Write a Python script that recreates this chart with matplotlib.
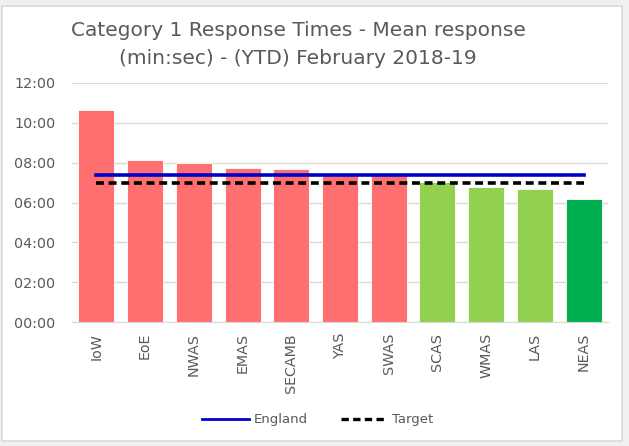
import matplotlib
matplotlib.use('Agg')
import matplotlib.pyplot as plt
from matplotlib.patches import Rectangle
from matplotlib.lines import Line2D
from matplotlib.ticker import FuncFormatter, MultipleLocator

# data (mean response, min:sec)
services = ['IoW', 'EoE', 'NWAS', 'EMAS', 'SECAMB', 'YAS', 'SWAS', 'SCAS', 'WMAS', 'LAS', 'NEAS']
mean_times = ['10:39', '08:09', '07:58', '07:45', '07:42', '07:24', '07:23', '07:01', '06:48', '06:40', '06:11']
bar_colours = ['#FF6F6F'] * 7 + ['#92D050'] * 3 + ['#00B050']
england = '07:22'
target = '07:00'


def to_minutes(s):
    m, sec = s.split(':')
    return int(m) + int(sec) / 60.0


values = [to_minutes(t) for t in mean_times]
x = list(range(len(services)))

fig = plt.figure(figsize=(6.29, 4.46), dpi=100, facecolor='#F0F0F0')
# white chart area with light border
fig.patches.append(Rectangle((2 / 629, 1 - 441 / 446), 620 / 629, 435 / 446,
                             transform=fig.transFigure, facecolor='white',
                             edgecolor='#D9D9D9', linewidth=1.2, zorder=-10))

ax = fig.add_axes([72 / 629, 1 - 322 / 446, 536 / 629, 239 / 446])
ax.set_facecolor('white')

ax.bar(x, values, width=0.74, color=bar_colours, edgecolor='white', linewidth=0.6, zorder=2)
ax.plot(x, [to_minutes(england)] * len(x), color='#0000CC', linewidth=2.6, zorder=3)
ax.plot(x, [to_minutes(target)] * len(x), color='black', linewidth=2.6,
        linestyle=(0, (2.2, 1.3)), zorder=4)

ax.set_xlim(-0.5, len(services) - 0.5)
ax.set_ylim(0, 12)
ax.yaxis.set_major_locator(MultipleLocator(2))
ax.yaxis.set_major_formatter(FuncFormatter(lambda v, p: '%02d:00' % int(round(v))))
ax.grid(axis='y', color='#D9D9D9', linewidth=1, zorder=0)
ax.set_axisbelow(True)
for s in ['top', 'right', 'left']:
    ax.spines[s].set_visible(False)
ax.spines['bottom'].set_color('#D9D9D9')
ax.tick_params(axis='y', length=0, pad=12, labelsize=10.3, labelcolor='#595959')
ax.tick_params(axis='x', length=0, pad=8, labelsize=10.3, labelcolor='#595959')
ax.set_xticks(x)
ax.set_xticklabels(services, rotation=90)

fig.text(298 / 629, 1 - 45 / 446, 'Category 1 Response Times - Mean response\n(min:sec) - (YTD) February 2018-19',
         ha='center', va='center', fontsize=14.5, color='#595959', linespacing=1.6)

handles = [Line2D([], [], color='#0000CC', linewidth=2),
           Line2D([], [], color='black', linewidth=2.4, linestyle=(0, (2.2, 1.3)))]
fig.legend(handles, ['England', 'Target'], loc='center', bbox_to_anchor=(318 / 629, 1 - 420 / 446),
           ncol=2, frameon=False, fontsize=9.5, labelcolor='#595959', handlelength=3.5,
           handletextpad=0.4, columnspacing=2.5)

fig.savefig('out.png', dpi=100, facecolor=fig.get_facecolor())
